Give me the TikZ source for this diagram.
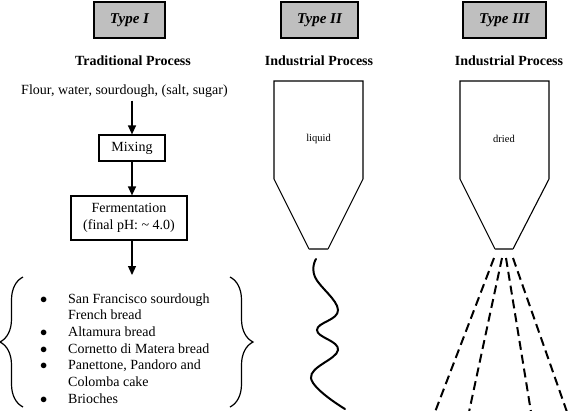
\documentclass[tikz,border=0pt]{standalone}
\usepackage{fontspec}
\setmainfont{Liberation Serif}
\usetikzlibrary{arrows.meta,positioning,calc,decorations.pathreplacing}

\begin{document}
\begin{tikzpicture}[
  x=1pt,y=-1pt,
  font=\fontsize{14}{16.7}\selectfont,
  typebox/.style={draw,line width=2pt,fill=black!25,inner sep=0pt,minimum height=36pt,
    font=\fontsize{15}{18}\selectfont\bfseries\itshape},
  heading/.style={anchor=base,font=\fontsize{14}{16.7}\selectfont\bfseries},
  process/.style={draw,line width=1.2pt,inner sep=0pt,align=center},
  silo/.style={draw,line width=1.1pt,line join=miter},
  outlet/.style={draw=black!65,line width=2pt},
  liquor/.style={draw,line width=2pt,line cap=round},
  spray/.style={draw,line width=2pt,dash pattern=on 9pt off 5pt},
  listbrace/.style={decorate,decoration={brace,amplitude=23pt},line width=1.2pt},
  flow/.style={->,>={Triangle[length=9pt,width=8pt]},line width=1.2pt},
  every node/.style={align=center}]

  \useasboundingbox (0,0) rectangle (568,410);

  % Kopfzeile
  \node[typebox,minimum width=71pt] (type1) at (129.5,20) {Type I};
  \node[typebox,minimum width=77pt] (type2) at (319.5,20) {Type II};
  \node[typebox,minimum width=83pt] (type3) at (504.5,20) {Type III};

  \node[heading] (trad) at (133,65) {Traditional Process};
  \node[heading] (ind2) at (319,65) {Industrial Process};
  \node[heading] (ind3) at (509,65) {Industrial Process};

  % Type I - traditionell
  \node[anchor=base] (flour) at (124.5,94) {Flour, water, sourdough, (salt, sugar)};
  \node[process,minimum width=66pt,minimum height=26pt] (mix) at (132,148) {Mixing};
  \node[process,minimum width=116pt,minimum height=44pt] (ferm) at (129,218)
      {Fermentation\\(final pH: \textasciitilde{} 4.0)};
  \coordinate (listtop) at (132,275);
  \node[anchor=base west,inner sep=0pt] (products) at (40,303) {%
    \begin{tabular}[t]{@{}p{28pt}@{}l@{}}
      $\bullet$ & San Francisco sourdough\\
                & French bread\\
      $\bullet$ & Altamura bread\\
      $\bullet$ & Cornetto di Matera bread\\
      $\bullet$ & Panettone, Pandoro and\\
                & Colomba cake\\
      $\bullet$ & Brioches
    \end{tabular}};

  \draw[flow] (mix.north |- flour.south) -- (mix.north);
  \draw[flow] (mix.south) -- (mix.south |- ferm.north);
  \draw[flow] (mix.south |- ferm.south) -- (listtop);

  \draw[listbrace] (23,407) -- (23,277);
  \draw[listbrace] (230,277) -- (230,407);

  % Type II - fluessig
  \draw[silo] (309,249) -- (274,179) -- (274,81) -- (363,81) -- (363,179) -- (328,249);
  \draw[outlet] (309,249) -- (328,249);
  \node[font=\fontsize{10.5}{12}\selectfont] (liquid) at (318.5,139) {liquid};
  \coordinate (out2) at (316,259);
  \draw[liquor] (out2) plot[smooth,tension=0.7] coordinates
      {(316,259) (315,277) (338,310) (317,330) (338,350) (311,378) (345,409)};

  % Type III - getrocknet
  \draw[silo] (495,249) -- (460,179) -- (460,81) -- (549,81) -- (549,179) -- (513,249);
  \draw[outlet] (495,249) -- (513,249);
  \node[font=\fontsize{10.5}{12}\selectfont] (dried) at (504,139) {dried};
  \coordinate (s1) at (494,258);
  \coordinate (s2) at (502,258);
  \coordinate (s3) at (506,258);
  \coordinate (s4) at (513,258);
  \coordinate (e1) at (435,412);
  \coordinate (e2) at (469,412);
  \coordinate (e3) at (531,412);
  \coordinate (e4) at (567,412);
  \draw[spray] (s1) -- (e1);
  \draw[spray] (s2) -- (e2);
  \draw[spray] (s3) -- (e3);
  \draw[spray] (s4) -- (e4);

\end{tikzpicture}
\end{document}
